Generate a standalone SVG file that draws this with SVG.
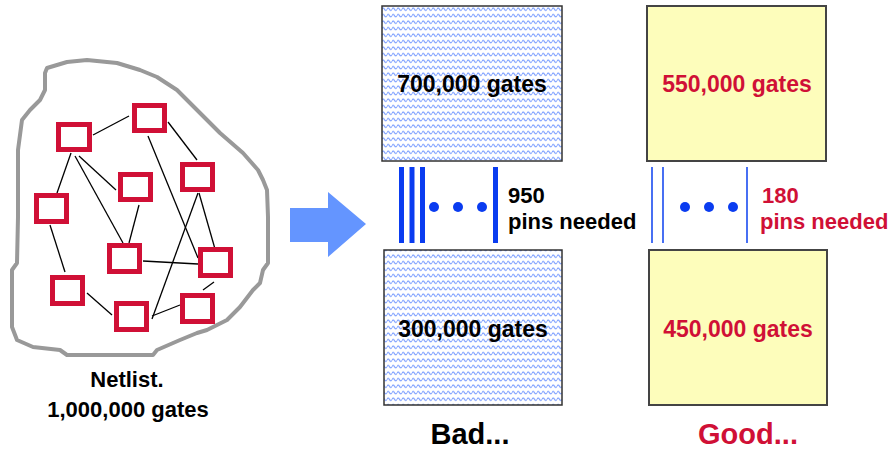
<svg xmlns="http://www.w3.org/2000/svg" width="895" height="449" viewBox="0 0 895 449">
<defs>
<pattern id="wave" patternUnits="userSpaceOnUse" width="5" height="6.5" x="382" y="6">
<rect width="5" height="6.5" fill="#ffffff"/>
<path d="M-0.1,3.2 Q1.25,0.9 2.5,3.2 T5.1,3.2" fill="none" stroke="#7096ff" stroke-width="1.1"/>
</pattern>
<style>
.gate{fill:#ffffff;stroke:#d01036;stroke-width:5}
.wire{stroke:#000;stroke-width:1.3;fill:none}
.lbl{font-family:"Liberation Sans",Arial,sans-serif;font-weight:bold}
.bad{fill:url(#wave);stroke:#333;stroke-width:1.5}
.good{fill:#fdfdbb;stroke:#444;stroke-width:2}
.thick{stroke:#0a3cf0;stroke-width:5}
.thin{stroke:#1a4cf0;stroke-width:1.6}
.dot{fill:#0a3cf0}
.red{fill:#d01036}
</style>
</defs>

<g id="netlist">
<path d="M47,68 L67,62 L87,60 L117,63 L140,70 L157,77 L177,90 L200,113 L220,133 L243,153 L258,170 L263,180 L267,190 L268,217 L268,263 L263,270 L260,283 L253,290 L240,307 L227,320 L207,330 L197,333 L180,340 L157,350 L153,355 L67,355 L60,350 L33,347 L17,340 L12,327 L12,270 L17,263 L18,217 L18,150 L22,120 L30,110 L40,100 L45,90 L45,73 Z" fill="#ffffff" stroke="#999999" stroke-width="4" stroke-linejoin="round"/>
</g>

<g id="connectors">
<line class="wire" x1="93" y1="135" x2="129" y2="116"/>
<line class="wire" x1="71" y1="153" x2="57" y2="193"/>
<line class="wire" x1="75" y1="156" x2="123" y2="243"/>
<line class="wire" x1="79" y1="156" x2="116" y2="190"/>
<line class="wire" x1="168" y1="122" x2="197" y2="160"/>
<line class="wire" x1="148" y1="136" x2="198" y2="258"/>
<line class="wire" x1="139" y1="205" x2="129" y2="243"/>
<line class="wire" x1="198" y1="193" x2="152" y2="319"/>
<line class="wire" x1="199" y1="193" x2="217" y2="256"/>
<line class="wire" x1="143" y1="261" x2="198" y2="264"/>
<line class="wire" x1="50" y1="225" x2="65" y2="272"/>
<line class="wire" x1="87" y1="293" x2="112" y2="315"/>
<line class="wire" x1="152" y1="316" x2="180" y2="305"/>
<line class="wire" x1="203" y1="290" x2="214" y2="282"/>
</g>

<g id="gate1"><rect class="gate" x="58.5" y="124.5" width="31" height="25"/></g>
<g id="gate2"><rect class="gate" x="134.5" y="105.5" width="30" height="25"/></g>
<g id="gate3"><rect class="gate" x="120.5" y="174.5" width="30" height="25"/></g>
<g id="gate4"><rect class="gate" x="182.5" y="164.5" width="30" height="25"/></g>
<g id="gate5"><rect class="gate" x="36.5" y="195.5" width="30" height="26"/></g>
<g id="gate6"><rect class="gate" x="109.5" y="245.5" width="30" height="26"/></g>
<g id="gate7"><rect class="gate" x="200.5" y="249.5" width="30" height="26"/></g>
<g id="gate8"><rect class="gate" x="52.5" y="277.5" width="30" height="26"/></g>
<g id="gate9"><rect class="gate" x="116.5" y="303.5" width="30" height="26"/></g>
<g id="gate10"><rect class="gate" x="182.5" y="295.5" width="30" height="26"/></g>

<g id="netlist-label">
<text class="lbl" x="127" y="387" font-size="22" text-anchor="middle" fill="#000">Netlist.</text>
<text class="lbl" x="128" y="417" font-size="22" text-anchor="middle" fill="#000">1,000,000 gates</text>
</g>

<g id="arrow">
<path d="M290,208 L328,208 L328,192 L366,224 L328,257 L328,242 L290,242 Z" fill="#6495ff"/>
</g>

<g id="bad-top">
<rect class="bad" x="382" y="6" width="180" height="155"/>
<text class="lbl" x="472" y="92" font-size="23" text-anchor="middle" fill="#000">700,000 gates</text>
</g>
<g id="bad-bottom">
<rect class="bad" x="384" y="250" width="178" height="155"/>
<text class="lbl" x="473" y="337" font-size="23" text-anchor="middle" fill="#000">300,000 gates</text>
</g>
<g id="bad-pins">
<line class="thick" x1="401.5" y1="167" x2="401.5" y2="243"/>
<line class="thick" x1="412" y1="167" x2="412" y2="243"/>
<line class="thick" x1="422.5" y1="167" x2="422.5" y2="243"/>
<line class="thick" x1="495.5" y1="167" x2="495.5" y2="243"/>
<circle class="dot" cx="434" cy="207" r="5"/>
<circle class="dot" cx="458" cy="207" r="5"/>
<circle class="dot" cx="482" cy="207" r="5"/>
<text class="lbl" x="508" y="203" font-size="22" fill="#000">950</text>
<text class="lbl" x="508" y="229" font-size="22" fill="#000">pins needed</text>
</g>
<g id="bad-label">
<text class="lbl" x="470" y="444" font-size="29" text-anchor="middle" fill="#000">Bad...</text>
</g>

<g id="good-top">
<rect class="good" x="647" y="6" width="179" height="155"/>
<text class="lbl red" x="737" y="92" font-size="23" text-anchor="middle">550,000 gates</text>
</g>
<g id="good-bottom">
<rect class="good" x="649" y="250" width="178" height="155"/>
<text class="lbl red" x="738" y="337" font-size="23" text-anchor="middle">450,000 gates</text>
</g>
<g id="good-pins">
<line class="thin" x1="652" y1="167" x2="652" y2="243"/>
<line class="thin" x1="663" y1="167" x2="663" y2="243"/>
<line class="thin" x1="747" y1="167" x2="747" y2="243"/>
<circle class="dot" cx="685" cy="207" r="5"/>
<circle class="dot" cx="709" cy="207" r="5"/>
<circle class="dot" cx="733" cy="207" r="5"/>
<text class="lbl red" x="762" y="203" font-size="22">180</text>
<text class="lbl red" x="760" y="229" font-size="22">pins needed</text>
</g>
<g id="good-label">
<text class="lbl red" x="748" y="444" font-size="29" text-anchor="middle">Good...</text>
</g>
</svg>
